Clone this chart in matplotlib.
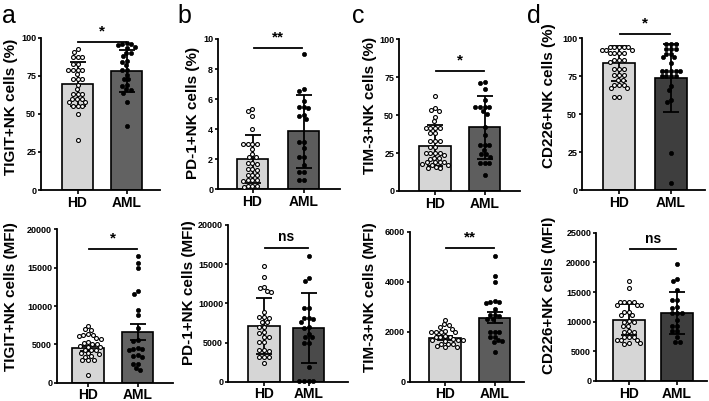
import numpy as np
import matplotlib
matplotlib.use('Agg')
import matplotlib.pyplot as plt

plt.rcParams['font.family'] = ['Liberation Sans', 'DejaVu Sans']

groups = ['HD', 'AML']

# ---------------- data ----------------
a_top_hd = [92.8, 90.8, 87.5, 87.5, 87.5, 83, 83, 79, 79, 79, 79, 76, 73, 73, 73,
            69, 66, 63, 63, 63, 60, 60, 60, 58, 58, 55, 55, 55, 50, 33]
a_top_aml = [96.7, 96, 95.8, 95, 94, 93, 90, 90, 88, 85, 84, 82, 79, 79, 75.5, 73,
             72.6, 69, 68, 66, 65.6, 63.5, 58, 42]
a_top_mean = [69.5, 78.3]
a_top_err = [14.3, 13.8]

b_top_hd = [5.35, 5.2, 4.85, 4.0, 3.0, 3.0, 3.0, 3.0, 2.7, 2.35, 2.17, 2.17, 1.75,
            1.73, 1.7, 1.33, 1.33, 1.3, 0.95, 0.95, 0.95, 0.6, 0.6, 0.55, 0.6,
            0.25, 0.2, 0.15, 0.25]
b_top_aml = [8.98, 6.65, 6.56, 5.9, 5.5, 5.45, 5.39, 4.94, 4.85, 4.7, 3.15, 3.15,
             2.77, 2.17, 2.13, 1.6, 1.18, 1.18, 0.62, 0.62]
b_top_mean = [2.0, 3.85]
b_top_err = [1.6, 2.4]

c_top_hd = [62.9, 54.5, 53.4, 53, 49, 46, 41.3, 41.3, 41.3, 41.3, 38, 38, 33, 33,
            33, 29, 29, 25, 25, 25, 25, 24, 22, 22, 21, 19, 19, 19, 19, 18, 17,
            17, 16, 15, 15]
c_top_aml = [72, 71, 67, 60, 55.5, 55.5, 55.5, 55.5, 52.7, 51, 42, 37, 30, 30, 30,
             27, 24.4, 24.4, 22.6, 18.2, 18.2, 18.2, 10.5]
c_top_mean = [29.9, 42.0]
c_top_err = [13.6, 20.8]

d_top_hd = [94.5, 94.5, 94.5, 94.5, 94.5, 92.5, 92.5, 92.5, 90, 90, 90, 90, 86, 86,
            86, 84.6, 79.5, 79.5, 79.5, 75.5, 75.5, 75.5, 72.5, 72.5, 69, 69, 69,
            67, 67, 61, 61]
d_top_aml = [96.4, 96.4, 96.4, 93, 93, 93, 89.5, 89.5, 87.5, 87.5, 84, 78.7, 78.7,
             78.7, 78.7, 78.7, 75, 75, 75, 75, 68.6, 66, 59.3, 57.8, 24.2, 4.4]
d_top_mean = [83.4, 73.8]
d_top_err = [11.5, 22.5]

a_bot_hd = [7400, 6950, 6900, 6300, 6200, 6200, 6150, 5800, 5750, 5300, 5150, 5100,
            5100, 4750, 4700, 4650, 4300, 4250, 4200, 3900, 3850, 3800, 3450, 3400,
            3000, 2950, 2900, 1000]
a_bot_aml = [16500, 15600, 15000, 11900, 11600, 9500, 8800, 7100, 5600, 5500, 4500,
             4450, 4400, 4250, 3600, 3500, 3400, 2450, 2400, 1900, 1650]
a_bot_mean = [4480, 6580]
a_bot_err = [300, 1050]

b_bot_hd = [14800, 13400, 12050, 11900, 11600, 11500, 8950, 8200, 8200, 8150, 7650,
            7600, 7000, 7000, 6300, 6250, 5700, 5700, 5100, 5100, 4000, 3900, 4000,
            3200, 3100, 3200, 2350]
b_bot_aml = [16050, 13200, 12850, 9350, 9350, 8100, 8100, 8000, 7600, 7000, 6900,
             6100, 5750, 5700, 5000, 4900, 1900, 50, 50, 50, 50]
b_bot_mean = [7100, 6900]
b_bot_err = [3600, 4450]

c_bot_hd = [2480, 2300, 2270, 2200, 2130, 2050, 2000, 2000, 2000, 1980, 1820, 1800,
            1800, 1780, 1700, 1680, 1680, 1660, 1620, 1520, 1500, 1500, 1420, 1400,
            1380]
c_bot_aml = [5030, 4230, 3990, 3240, 3200, 3200, 3150, 2900, 2670, 2670, 2650, 2520,
             2500, 2000, 2000, 1980, 1800, 1780, 1670, 1650, 1600, 1200]
c_bot_mean = [1740, 2570]
c_bot_err = [80, 230]

d_bot_hd = [16900, 15600, 13400, 13400, 13350, 13300, 12800, 12750, 12800, 11700,
            11650, 11100, 11150, 10000, 10050, 9950, 9300, 9250, 8300, 8250, 8350,
            7500, 7450, 7450, 6900, 6850, 6900, 6350, 6300, 6350]
d_bot_aml = [19650, 17200, 16850, 15300, 13650, 13600, 12400, 12300, 11500, 11500,
             11450, 10200, 9300, 9250, 8400, 8350, 7350, 6650, 6600]
d_bot_mean = [10300, 11500]
d_bot_err = [2600, 3500]

labels = ['TIGIT+NK cells (%)', 'PD-1+NK cells (%)', 'TIM-3+NK cells (%)',
          'CD226+NK cells (%)', 'TIGIT+NK cells (MFI)', 'PD-1+NK cells (MFI)',
          'TIM-3+NK cells (MFI)', 'CD226+NK cells (MFI)']
sig_text = ['*', '**', '*', '*', '*', 'ns', '**', 'ns']
sig_y = [97.4, 9.42, 79, 102.6, 17470, 17100, 5370, 22200]
ymax = [100, 10, 100, 100, 20000, 20000, 6000, 25000]
ystep = [25, 2, 25, 25, 5000, 5000, 2000, 5000]
panel_letters = ['a', 'b', 'c', 'd']

data = [
    (a_top_hd, a_top_aml, a_top_mean, a_top_err),
    (b_top_hd, b_top_aml, b_top_mean, b_top_err),
    (c_top_hd, c_top_aml, c_top_mean, c_top_err),
    (d_top_hd, d_top_aml, d_top_mean, d_top_err),
    (a_bot_hd, a_bot_aml, a_bot_mean, a_bot_err),
    (b_bot_hd, b_bot_aml, b_bot_mean, b_bot_err),
    (c_bot_hd, c_bot_aml, c_bot_mean, c_bot_err),
    (d_bot_hd, d_bot_aml, d_bot_mean, d_bot_err),
]

# ---------------- layout (pixels) ----------------
W, H = 709, 401
# left, right, top(ymax), bottom(0), HD centre, AML centre
layout = [
    (41, 160, 37.7, 190.0, 77.5, 126.5),
    (218, 340, 39.0, 189.3, 252.5, 303.5),
    (399, 520, 39.3, 191.0, 435.0, 484.5),
    (582, 705, 38.3, 190.0, 619.0, 671.0),
    (57, 173, 229.3, 382.7, 88.0, 137.5),
    (228, 348, 225.0, 381.7, 264.0, 308.5),
    (410, 524, 232.0, 381.7, 445.0, 494.5),
    (596, 707, 232.7, 381.0, 629.0, 677.0),
]
# right edge (x) and vertical centre (y) of each rotated axis title
label_pos = [(18, 107), (200, 113), (377, 105), (556, 96),
             (18, 297), (196, 293), (377, 297), (556, 295)]
aml_colors = ['#626262', '#5c5c5c', '#5e5e5e', '#3e3e3e',
              '#626262', '#4a4a4a', '#5c5c5c', '#3e3e3e']
hd_color = '#d6d6d6'

fig = plt.figure(figsize=(W / 100, H / 100), dpi=100)


def swarm_offsets(ax, xc, vals, diam):
    tr = ax.transData
    pts = tr.transform(np.column_stack([np.full(len(vals), xc), vals]))
    x0 = pts[0, 0]
    ys = pts[:, 1]
    order = np.argsort(-ys)
    placed = []
    xs = np.zeros(len(vals))
    for i in order:
        y = ys[i]
        cands = [0.0]
        for (px, py) in placed:
            dy = y - py
            if abs(dy) < diam:
                dx = np.sqrt(diam ** 2 - dy ** 2)
                cands += [px + dx, px - dx]
        cands = sorted(cands, key=lambda c: (abs(c), c))
        best = 0.0
        for c in cands:
            if all((c - px) ** 2 + (y - py) ** 2 >= diam ** 2 - 1e-6 for px, py in placed):
                best = c
                break
        placed.append((best, y))
        xs[i] = x0 + best
    return tr.inverted().transform(np.column_stack([xs, ys]))[:, 0]


for k, ((hd, aml, mean, err), (L, R, T, B, c0, c1)) in enumerate(zip(data, layout)):
    ax = fig.add_axes([L / W, 1 - B / H, (R - L) / W, (B - T) / H])
    sp = c1 - c0
    ax.set_xlim((L - c0) / sp, (R - c0) / sp)
    ax.set_ylim(0, ymax[k])
    bw = 31.5 / sp
    x = np.arange(2)
    ax.bar(x, mean, width=bw, color=[hd_color, aml_colors[k]], edgecolor='black',
           linewidth=1.2, zorder=2)
    ax.errorbar(x, mean, yerr=err, fmt='none', ecolor='black', elinewidth=1.3,
                capsize=5.5, capthick=1.3, zorder=3)
    xs_hd = swarm_offsets(ax, 0, hd, 4.6)
    xs_aml = swarm_offsets(ax, 1, aml, 4.6)
    ax.scatter(xs_hd, hd, s=8, facecolor='white', edgecolor='black', linewidth=0.8,
               zorder=4, clip_on=False)
    ax.scatter(xs_aml, aml, s=9, facecolor='black', edgecolor='black', linewidth=0.5,
               zorder=4, clip_on=False)
    for s in ['top', 'right']:
        ax.spines[s].set_visible(False)
    for s in ['left', 'bottom']:
        ax.spines[s].set_linewidth(1.3)
    ax.set_yticks(np.arange(0, ymax[k] + ystep[k] / 2, ystep[k]))
    ax.set_xticks(x)
    ax.set_xticklabels(groups, fontsize=10, fontweight='bold')
    ax.tick_params(axis='y', labelsize=6.5, width=1.2, length=2.5, pad=1)
    ax.tick_params(axis='x', width=1.2, length=3, pad=1)
    for t in ax.get_yticklabels():
        t.set_fontweight('bold')
    ax.set_ylabel(labels[k], fontsize=11, fontweight='bold')
    lx, ly = label_pos[k]
    ax.yaxis.set_label_coords((lx - L) / (R - L), (B - ly) / (B - T))
    # significance
    ax.plot([0.02, 0.98], [sig_y[k], sig_y[k]], color='black', lw=1.3,
            clip_on=False, zorder=5)
    if sig_text[k] == 'ns':
        ax.annotate('ns', (0.5, sig_y[k]), xytext=(0, 2.5), textcoords='offset points',
                    ha='center', va='bottom', fontsize=10, fontweight='bold',
                    annotation_clip=False)
    else:
        ax.annotate(sig_text[k], (0.5, sig_y[k]), xytext=(0, 2.5),
                    textcoords='offset points', ha='center', va='bottom',
                    fontsize=11, fontweight='bold', annotation_clip=False)

letter_x = [2, 177, 352, 527]
for lt, lx in zip(panel_letters, letter_x):
    fig.text(lx / W, 1 - 4 / H, lt, fontsize=18, ha='left', va='top')

fig.savefig('out.png', dpi=100)
